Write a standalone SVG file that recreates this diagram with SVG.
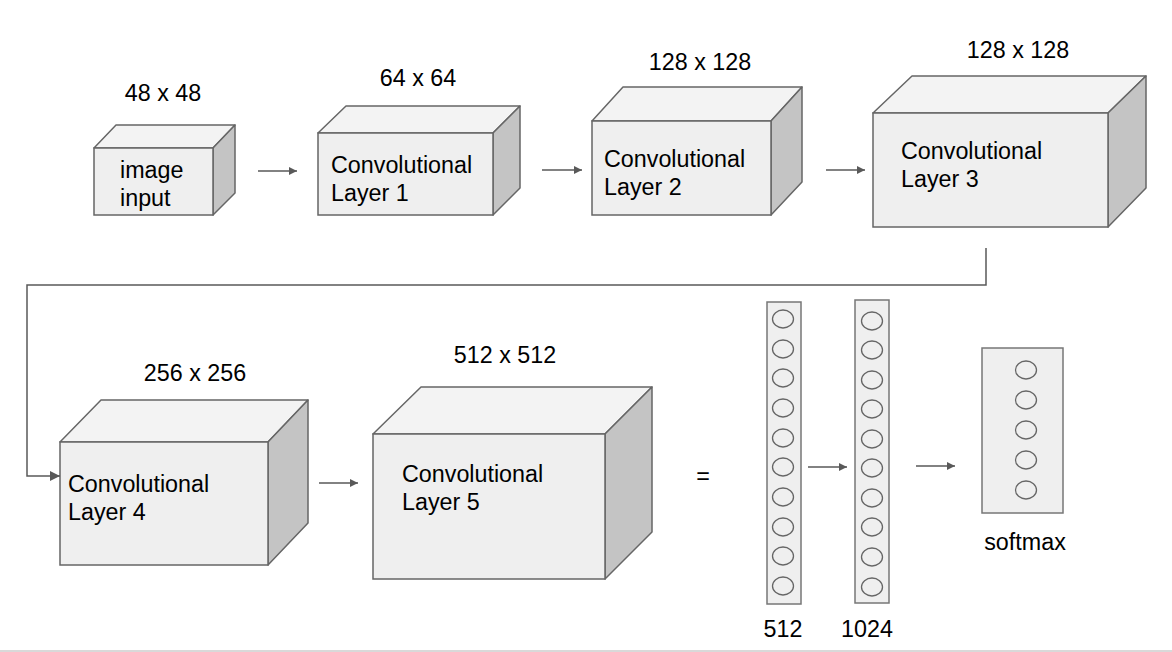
<svg xmlns="http://www.w3.org/2000/svg" width="1172" height="652" viewBox="0 0 1172 652">
<defs>
<style>
.front{fill:#efefef;stroke:#666;stroke-width:1.5}
.top{fill:#f3f3f3;stroke:#666;stroke-width:1.5;stroke-linejoin:round}
.side{fill:#c4c4c4;stroke:#666;stroke-width:1.5;stroke-linejoin:round}
.t{font-family:"Liberation Sans",Arial,sans-serif;font-size:23.3px;fill:#000}
.c{text-anchor:middle}
.con{fill:none;stroke:#595959;stroke-width:1.5}
.col{fill:#efefef;stroke:#777;stroke-width:1.5}
.n{fill:none;stroke:#666;stroke-width:1.3}
</style>
<marker id="ah" viewBox="0 0 10 10" refX="10" refY="5" markerWidth="8" markerHeight="8" markerUnits="userSpaceOnUse" orient="auto">
<path d="M0,0 L10,5 L0,10 z" fill="#595959"/>
</marker>
<marker id="ah2" viewBox="0 0 10 10" refX="10" refY="5" markerWidth="10" markerHeight="10" markerUnits="userSpaceOnUse" orient="auto">
<path d="M0,0 L10,5 L0,10 z" fill="#595959"/>
</marker>
</defs>
<rect width="1172" height="652" fill="#fff"/>

<g id="input">
<polygon class="top" points="94,148 116,125 235,125 213,148"/>
<polygon class="side" points="213,148 235,125 235,193 213,215"/>
<rect class="front" x="94" y="148" width="119" height="67"/>
<text class="t" x="120" y="178">image</text>
<text class="t" x="120" y="206">input</text>
<text class="t c" x="163" y="101">48 x 48</text>
</g>

<g id="conv1">
<polygon class="top" points="318,133 346,106 520,106 493,133"/>
<polygon class="side" points="493,133 520,106 520,188 493,215"/>
<rect class="front" x="318" y="133" width="175" height="82"/>
<text class="t" x="331" y="173">Convolutional</text>
<text class="t" x="331" y="201">Layer 1</text>
<text class="t c" x="418" y="86">64 x 64</text>
</g>

<g id="conv2">
<polygon class="top" points="592,121 623,87 802,87 771,121"/>
<polygon class="side" points="771,121 802,87 802,182 771,215"/>
<rect class="front" x="592" y="121" width="179" height="94"/>
<text class="t" x="604" y="167">Convolutional</text>
<text class="t" x="604" y="195">Layer 2</text>
<text class="t c" x="700" y="70">128 x 128</text>
</g>

<g id="conv3">
<polygon class="top" points="873,113 912,76 1146,76 1108,113"/>
<polygon class="side" points="1108,113 1146,76 1146,188 1108,227"/>
<rect class="front" x="873" y="113" width="235" height="114"/>
<text class="t" x="901" y="159">Convolutional</text>
<text class="t" x="901" y="187">Layer 3</text>
<text class="t c" x="1018" y="58">128 x 128</text>
</g>

<g id="conv4">
<polygon class="top" points="60,442 101,400 308,400 268,442"/>
<polygon class="side" points="268,442 308,400 308,523 268,565"/>
<rect class="front" x="60" y="442" width="208" height="123"/>
<text class="t" x="68" y="492">Convolutional</text>
<text class="t" x="68" y="520">Layer 4</text>
<text class="t c" x="195" y="381">256 x 256</text>
</g>

<g id="conv5">
<polygon class="top" points="373,434 421,387 652,387 605,434"/>
<polygon class="side" points="605,434 652,387 652,532 605,579"/>
<rect class="front" x="373" y="434" width="232" height="145"/>
<text class="t" x="402" y="482">Convolutional</text>
<text class="t" x="402" y="510">Layer 5</text>
<text class="t c" x="505" y="363">512 x 512</text>
</g>

<g id="equals">
<text class="t c" x="703" y="484">=</text>
</g>

<g id="fc512">
<rect class="col" x="767" y="302" width="34" height="302"/>
<ellipse class="n" cx="783" cy="319" rx="10.5" ry="9"/>
<ellipse class="n" cx="783" cy="349" rx="10.5" ry="9"/>
<ellipse class="n" cx="783" cy="378" rx="10.5" ry="9"/>
<ellipse class="n" cx="783" cy="408" rx="10.5" ry="9"/>
<ellipse class="n" cx="783" cy="438" rx="10.5" ry="9"/>
<ellipse class="n" cx="783" cy="467" rx="10.5" ry="9"/>
<ellipse class="n" cx="783" cy="497" rx="10.5" ry="9"/>
<ellipse class="n" cx="783" cy="527" rx="10.5" ry="9"/>
<ellipse class="n" cx="783" cy="556" rx="10.5" ry="9"/>
<ellipse class="n" cx="783" cy="586" rx="10.5" ry="9"/>
<text class="t c" x="783" y="637">512</text>
</g>

<g id="fc1024">
<rect class="col" x="855" y="300" width="34" height="303"/>
<ellipse class="n" cx="872" cy="321" rx="10.5" ry="9"/>
<ellipse class="n" cx="872" cy="350" rx="10.5" ry="9"/>
<ellipse class="n" cx="872" cy="380" rx="10.5" ry="9"/>
<ellipse class="n" cx="872" cy="409" rx="10.5" ry="9"/>
<ellipse class="n" cx="872" cy="439" rx="10.5" ry="9"/>
<ellipse class="n" cx="872" cy="468" rx="10.5" ry="9"/>
<ellipse class="n" cx="872" cy="498" rx="10.5" ry="9"/>
<ellipse class="n" cx="872" cy="527" rx="10.5" ry="9"/>
<ellipse class="n" cx="872" cy="557" rx="10.5" ry="9"/>
<ellipse class="n" cx="872" cy="587" rx="10.5" ry="9"/>
<text class="t c" x="867" y="637">1024</text>
</g>

<g id="softmax">
<rect class="col" x="982" y="348" width="81" height="165"/>
<ellipse class="n" cx="1026" cy="370" rx="10.5" ry="9"/>
<ellipse class="n" cx="1026" cy="400" rx="10.5" ry="9"/>
<ellipse class="n" cx="1026" cy="430" rx="10.5" ry="9"/>
<ellipse class="n" cx="1026" cy="460" rx="10.5" ry="9"/>
<ellipse class="n" cx="1026" cy="490" rx="10.5" ry="9"/>
<text class="t c" x="1025" y="550">softmax</text>
</g>

<g id="connectors">
<line class="con" x1="258" y1="171" x2="297" y2="171" marker-end="url(#ah)"/>
<line class="con" x1="542" y1="170" x2="582" y2="170" marker-end="url(#ah)"/>
<line class="con" x1="826" y1="170" x2="865" y2="170" marker-end="url(#ah)"/>
<polyline class="con" points="986,248 986,285 27,285 27,476 60,476" marker-end="url(#ah2)"/>
<line class="con" x1="319" y1="483" x2="358" y2="483" marker-end="url(#ah)"/>
<line class="con" x1="808" y1="467" x2="847" y2="467" marker-end="url(#ah)"/>
<line class="con" x1="916" y1="466" x2="955" y2="466" marker-end="url(#ah)"/>
</g>
<line x1="0" y1="651" x2="1172" y2="651" stroke="#cccccc" stroke-width="1.5"/>
</svg>
